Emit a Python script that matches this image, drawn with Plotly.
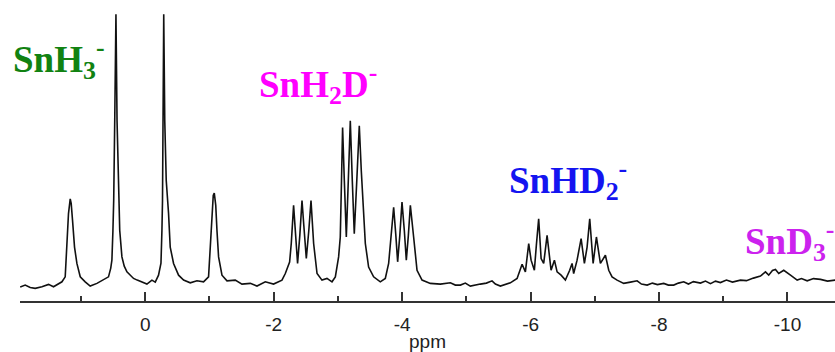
import plotly.graph_objects as go

# Chemical shift (ppm), left to right
ppm = [1.947, 1.869, 1.791, 1.713, 1.609, 1.506, 1.428, 1.355, 1.297, 1.246,
       1.220, 1.195, 1.168, 1.153, 1.132, 1.101, 1.064, 1.012, 0.935, 0.857,
       0.752, 0.650, 0.572, 0.537, 0.519, 0.503, 0.491, 0.475, 0.456, 0.439,
       0.416, 0.397, 0.363, 0.327, 0.285, 0.234, 0.182, 0.125, 0.051, -0.026,
       -0.104, -0.156, -0.207, -0.245, -0.260, -0.269, -0.277, -0.288, -0.304, -0.327,
       -0.363, -0.389, -0.441, -0.483, -0.519, -0.597, -0.701, -0.805, -0.908, -0.986,
       -1.012, -1.039, -1.059, -1.075, -1.098, -1.117, -1.142, -1.195, -1.273, -1.402,
       -1.506, -1.636, -1.740, -1.869, -1.998, -2.129, -2.181, -2.248, -2.274, -2.310,
       -2.336, -2.372, -2.407, -2.441, -2.469, -2.508, -2.547, -2.581, -2.622, -2.675,
       -2.752, -2.830, -2.908, -2.960, -3.011, -3.037, -3.056, -3.073, -3.100, -3.131,
       -3.162, -3.193, -3.224, -3.255, -3.294, -3.333, -3.364, -3.391, -3.427, -3.478,
       -3.556, -3.660, -3.738, -3.790, -3.827, -3.868, -3.902, -3.930, -3.964, -3.998,
       -4.034, -4.065, -4.097, -4.128, -4.179, -4.232, -4.310, -4.439, -4.595, -4.751,
       -4.829, -4.907, -4.984, -5.062, -5.218, -5.312, -5.400, -5.452, -5.530, -5.607,
       -5.685, -5.790, -5.841, -5.868, -5.919, -5.971, -6.008, -6.059, -6.090, -6.126,
       -6.164, -6.204, -6.257, -6.319, -6.371, -6.413, -6.475, -6.542, -6.609, -6.646,
       -6.671, -6.724, -6.787, -6.838, -6.880, -6.921, -6.974, -7.025, -7.087, -7.165,
       -7.217, -7.269, -7.347, -7.450, -7.555, -7.659, -7.726, -7.815, -7.897, -7.975,
       -8.073, -8.146, -8.229, -8.302, -8.385, -8.458, -8.536, -8.645, -8.723, -8.801,
       -8.879, -8.956, -9.050, -9.143, -9.268, -9.361, -9.470, -9.579, -9.657, -9.708,
       -9.766, -9.813, -9.864, -9.942, -10.047, -10.151, -10.218, -10.307, -10.405, -10.514,
       -10.623, -10.748]

# Signal intensity (relative, tallest line = 100)
intensity = [-0.36, 0.36, -0.55, -0.84, -0.26, 0.62, -0.26, 0.73, 1.57, 3.39,
             14.3, 26.6, 32.0, 30.3, 24.1, 14.3, 8.3, 3.4, 1.57, 0.0,
             0.99, 2.19, 3.39, 6.6, 9.5, 20.4, 31.4, 60.6, 99.7, 60.6,
             31.4, 20.4, 10.7, 7.3, 5.2, 4.0, 2.8, 2.19, 1.57, 0.73,
             2.19, 1.46, 4.0, 8.4, 20.4, 31.4, 60.6, 99.7, 60.6, 38.7,
             26.6, 14.3, 8.3, 5.8, 4.0, 2.19, 1.2, 1.93, 1.57, 3.39,
             14.3, 28.9, 33.2, 34.1, 29.6, 20.4, 10.7, 4.0, 1.93, 2.19,
             0.73, 0.99, 0.0, 1.57, 0.73, 2.19, 4.6, 8.8, 15.7, 29.6,
             20.4, 8.3, 18.6, 31.4, 22.3, 10.1, 20.4, 31.4, 15.6, 4.6,
             2.19, 2.8, 1.57, 3.39, 10.7, 18.0, 38.7, 58.1, 38.7, 18.0,
             38.7, 60.6, 38.7, 19.2, 38.7, 58.8, 42.3, 30.2, 15.6, 7.0,
             3.39, 1.57, 2.8, 8.3, 18.0, 28.9, 18.6, 8.9, 18.6, 30.8,
             20.4, 9.5, 18.6, 29.6, 18.0, 5.8, 2.19, 0.99, 0.73, 1.2,
             0.36, 0.36, 1.09, 0.0, 0.73, 1.09, 1.93, 0.73, 0.0, 0.73,
             1.2, 2.8, 6.5, 8.0, 5.2, 15.6, 9.5, 5.8, 15.0, 24.7,
             10.1, 8.3, 18.6, 5.8, 9.5, 5.2, 4.0, 2.19, 5.8, 8.3,
             4.6, 9.5, 17.4, 8.3, 14.3, 24.7, 8.3, 18.0, 8.3, 11.3,
             5.8, 3.39, 2.19, 0.99, 1.46, 1.93, 0.73, 0.36, 1.09, 0.55,
             0.99, 0.36, 0.36, 1.09, 1.57, 0.73, 1.64, 1.09, 1.82, 0.91,
             1.82, 1.28, 2.19, 1.46, 2.19, 2.0, 2.92, 3.65, 5.2, 4.0,
             5.7, 6.1, 4.6, 5.8, 4.0, 2.19, 2.74, 1.93, 2.74, 2.45,
             1.82, 2.19]

tick_vals = [0, -2, -4, -6, -8, -10]
tick_text = ["0", "-2", "-4", "-6", "-8", "-10"]

labels = ["SnH<sub>3</sub><sup>-</sup>", "SnH<sub>2</sub>D<sup>-</sup>",
          "SnHD<sub>2</sub><sup>-</sup>", "SnD<sub>3</sub><sup>-</sup>"]
label_colors = ["#118211", "#ff00ff", "#1414f0", "#cc22ee"]

W, H = 835, 352
ml, mr, mt, mb = 20, 0, 12, 51
pw, ph = W - ml - mr, H - mt - mb

def px(xp):
    return (xp - ml) / pw

def py(yp):
    return (H - mb - yp) / ph

label_pos = [(11, 59), (257, 84), (507, 180), (743, 241)]

fig = go.Figure()
fig.add_trace(go.Scatter(x=ppm, y=intensity, mode="lines",
                         line=dict(color="#111111", width=1.6),
                         hoverinfo="skip", showlegend=False))

for txt, col, (lx, ly) in zip(labels, label_colors, label_pos):
    fig.add_annotation(text="<b>" + txt + "</b>", xref="paper", yref="paper",
                       x=px(lx), y=py(ly), xanchor="left", yanchor="middle",
                       showarrow=False,
                       font=dict(family="Liberation Serif", size=37, color=col))

fig.update_layout(
    width=W, height=H,
    margin=dict(l=ml, r=mr, t=mt, b=mb),
    paper_bgcolor="white", plot_bgcolor="white",
    xaxis=dict(range=[1.95, -10.74], tickvals=tick_vals, ticktext=tick_text,
               ticks="inside", ticklen=9, tickwidth=1.5, tickcolor="#333333",
               showline=True, linecolor="#333333", linewidth=1.5,
               showgrid=False, zeroline=False, ticklabelstandoff=5,
               minor=dict(tickvals=[1, -1, -3, -5, -7, -9], ticks="inside",
                          ticklen=5, tickwidth=1.5, tickcolor="#333333"),
               tickfont=dict(family="Liberation Sans", size=19, color="#222222"),
               title=dict(text="ppm", standoff=4,
                          font=dict(family="Liberation Sans", size=19, color="#222222"))),
    yaxis=dict(range=[-5.47, 100.5], visible=False, showgrid=False, zeroline=False),
)

fig.write_html("out.html")
